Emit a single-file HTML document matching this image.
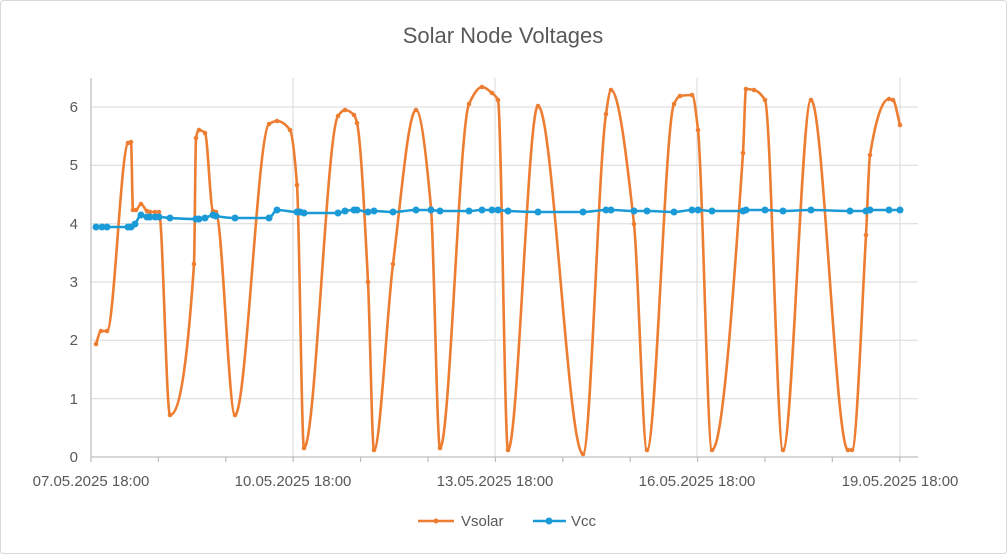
<!DOCTYPE html>
<html><head><meta charset="utf-8"><style>
html,body{margin:0;padding:0;background:#fff}
svg{display:block;font-family:"Liberation Sans",Arial,sans-serif}
</style></head><body>
<svg id="s" width="1007" height="554" viewBox="0 0 1007 554">
<rect x="0.5" y="0.5" width="1006" height="553" rx="3" fill="#fff" stroke="#d9d9d9"/>
<text x="503" y="43" text-anchor="middle" font-size="22" fill="#595959">Solar Node Voltages</text>
<g stroke="#d9d9d9" stroke-width="1">
<line x1="91" x2="918" y1="398.7" y2="398.7"/>
<line x1="91" x2="918" y1="340.3" y2="340.3"/>
<line x1="91" x2="918" y1="282" y2="282"/>
<line x1="91" x2="918" y1="223.7" y2="223.7"/>
<line x1="91" x2="918" y1="165.3" y2="165.3"/>
<line x1="91" x2="918" y1="107" y2="107"/>
<line x1="293" x2="293" y1="78" y2="457"/>
<line x1="495" x2="495" y1="78" y2="457"/>
<line x1="697" x2="697" y1="78" y2="457"/>
<line x1="900" x2="900" y1="78" y2="457"/>
</g>
<g stroke="#bfbfbf" stroke-width="1.3">
<line x1="91" x2="918" y1="457" y2="457"/>
<line x1="91" x2="91" y1="78" y2="457"/>
<g id="ticks"></g>
</g>
<g font-size="15" fill="#595959" text-anchor="end">
<text x="78" y="462">0</text><text x="78" y="404">1</text><text x="78" y="345">2</text>
<text x="78" y="287">3</text><text x="78" y="229">4</text><text x="78" y="170">5</text><text x="78" y="112">6</text>
</g>
<g font-size="15" fill="#595959" text-anchor="middle">
<text x="91" y="486">07.05.2025 18:00</text><text x="293" y="486">10.05.2025 18:00</text>
<text x="495" y="486">13.05.2025 18:00</text><text x="697" y="486">16.05.2025 18:00</text>
<text x="900" y="486">19.05.2025 18:00</text>
</g>
<g id="series"></g>
<g font-size="15" fill="#595959">
<line x1="418" x2="454" y1="521" y2="521" stroke="#ED7D31" stroke-width="2.5"/><circle cx="436" cy="521" r="2.5" fill="#ED7D31"/>
<text x="461" y="526">Vsolar</text>
<line x1="533" x2="566" y1="521" y2="521" stroke="#1A9BD7" stroke-width="2.5"/><circle cx="549" cy="521" r="3.5" fill="#1A9BD7"/>
<text x="571" y="526">Vcc</text>
</g>
</svg>
<script>
var NS="http://www.w3.org/2000/svg";
var t=document.getElementById("ticks");
for(var i=0;i<=12;i++){var x=91+i*67.4;var l=document.createElementNS(NS,"line");l.setAttribute("x1",x);l.setAttribute("x2",x);l.setAttribute("y1",457);l.setAttribute("y2",462);t.appendChild(l);}
var vs=[[96,344],[101,331],[107,331],[128,143],[131,142],[133,210],[136,210],[141,204],[147,211],[150,212],[155,212],[159,212],[170,415],[194,264],[196,138],[199,130],[205,133],[213,211],[216,212],[235,415],[269,124],[277,121],[290,130],[297,185],[304,448],[338,116],[345,110],[354,115],[357,123],[368,282],[374,450],[393,264],[416,110],[431,208],[440,448],[469,104],[482,87],[492,93],[498,100],[508,450],[538,106],[583,454],[606,114],[611,90],[634,224],[647,450],[674,104],[680,96],[692,95],[698,130],[712,450],[743,153],[746,89],[754,90],[765,100],[783,450],[811,100],[848,450],[852,450],[866,235],[870,155],[889,99],[893,100],[900,125]];
var vc=[[96,227],[102,227],[107,227],[128,227],[131,227],[135,224],[141,215],[147,217],[150,217],[155,217],[159,217],[170,218],[196,219],[199,219],[205,218],[213,215],[216,216],[235,218],[269,218],[277,210],[297,212],[300,212],[304,213],[338,213],[345,211],[354,210],[357,210],[368,212],[374,211],[393,212],[416,210],[431,210],[440,211],[469,211],[482,210],[492,210],[498,210],[508,211],[538,212],[583,212],[606,210],[611,210],[634,211],[647,211],[674,212],[692,210],[698,210],[712,211],[743,211],[746,210],[765,210],[783,211],[811,210],[850,211],[866,211],[870,210],[889,210],[900,210]];
function path(p){var n=p.length,dx=[],s=[],m=[];for(var i=0;i<n-1;i++){dx[i]=p[i+1][0]-p[i][0];s[i]=(p[i+1][1]-p[i][1])/dx[i];}
m[0]=s[0];m[n-1]=s[n-2];for(i=1;i<n-1;i++){if(s[i-1]*s[i]<=0)m[i]=0;else{var w1=2*dx[i]+dx[i-1],w2=dx[i]+2*dx[i-1];m[i]=(w1+w2)/(w1/s[i-1]+w2/s[i]);}}
var d="M"+p[0][0]+","+p[0][1];for(i=0;i<n-1;i++){var h=dx[i]/3;d+=" C"+(p[i][0]+h)+","+(p[i][1]+m[i]*h)+" "+(p[i+1][0]-h)+","+(p[i+1][1]-m[i+1]*h)+" "+p[i+1][0]+","+p[i+1][1];}return d;}
var g=document.getElementById("series");
function draw(p,col,r,w){var pa=document.createElementNS(NS,"path");pa.setAttribute("d",path(p));pa.setAttribute("fill","none");pa.setAttribute("stroke",col);pa.setAttribute("stroke-width",w);pa.setAttribute("stroke-linejoin","round");g.appendChild(pa);p.forEach(function(q){var c=document.createElementNS(NS,"circle");c.setAttribute("cx",q[0]);c.setAttribute("cy",q[1]);c.setAttribute("r",r);c.setAttribute("fill",col);g.appendChild(c);});}
draw(vs,"#ED7D31",2.3,2.6);
draw(vc,"#1A9BD7",3.5,2.6);
</script>
</body></html>
